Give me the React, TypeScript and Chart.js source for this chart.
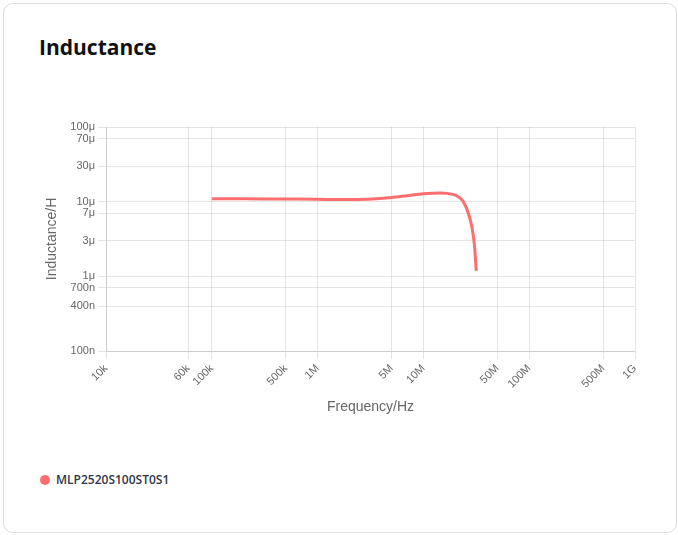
import React, { useEffect, useRef } from "react";
import { Chart, registerables } from "chart.js";

Chart.register(...registerables);

const seriesName = "MLP2520S100ST0S1";
const frequencies = [
  1e5, 2e5, 5e5, 1e6, 1.8e6, 3e6, 5e6, 7e6, 1e7, 1.45e7, 1.9e7, 2.2e7, 2.4e7, 2.67e7, 2.88e7, 3.03e7, 3.16e7,
];
const inductances = [
  10.95e-6, 10.9e-6, 10.85e-6, 10.8e-6, 10.65e-6, 10.8e-6, 11.35e-6, 12.0e-6, 12.75e-6, 13.1e-6, 12.5e-6, 11.3e-6,
  9.8e-6, 6.9e-6, 4.5e-6, 2.7e-6, 1.18e-6,
];
const xTicks = [1e4, 6e4, 1e5, 5e5, 1e6, 5e6, 1e7, 5e7, 1e8, 5e8, 1e9];
const yTicks = [1e-7, 4e-7, 7e-7, 1e-6, 3e-6, 7e-6, 1e-5, 3e-5, 7e-5, 1e-4];

const lineColor = "#ff6e6e";

function si(v: number): string {
  const prefixes: [number, string][] = [
    [1e9, "G"],
    [1e6, "M"],
    [1e3, "k"],
    [1, ""],
    [1e-3, "m"],
    [1e-6, "μ"],
    [1e-9, "n"],
  ];
  for (const [f, p] of prefixes) {
    if (v >= f * 0.999) {
      const n = Math.round((v / f) * 1000) / 1000;
      return `${n}${p}`;
    }
  }
  return String(v);
}

export default function App() {
  const ref = useRef<HTMLCanvasElement | null>(null);
  useEffect(() => {
    if (!ref.current) return;
    const chart = new Chart(ref.current, {
      type: "line",
      data: {
        datasets: [
          {
            label: seriesName,
            data: frequencies.map((f, i) => ({ x: f, y: inductances[i] })),
            borderColor: lineColor,
            backgroundColor: lineColor,
            borderWidth: 3,
            pointRadius: 0,
            tension: 0.4,
            cubicInterpolationMode: "monotone",
            fill: false,
          },
        ],
      },
      options: {
        animation: false,
        responsive: false,
        maintainAspectRatio: false,
        layout: { padding: { left: 0, right: 15, top: 27, bottom: 0 } },
        plugins: { legend: { display: false }, tooltip: { enabled: false } },
        scales: {
          x: {
            type: "logarithmic",
            min: 1e4,
            max: 1e9,
            title: { display: true, text: "Frequency/Hz", color: "#666", font: { size: 14 } },
            ticks: {
              autoSkip: false,
              minRotation: 45,
              maxRotation: 45,
              color: "#666",
              font: { size: 11 },
              callback: (v: any) => si(Number(v)),
            },
            afterBuildTicks: (scale: any) => {
              scale.ticks = xTicks.map((v) => ({ value: v }));
            },
            afterFit: (scale: any) => {
              scale.height = 69;
            },
          },
          y: {
            type: "logarithmic",
            min: 1e-7,
            max: 1e-4,
            title: { display: true, text: "Inductance/H", color: "#666", font: { size: 14 } },
            ticks: {
              autoSkip: false,
              color: "#666",
              font: { size: 11 },
              callback: (v: any) => si(Number(v)),
            },
            afterBuildTicks: (scale: any) => {
              scale.ticks = yTicks.map((v) => ({ value: v }));
            },
            afterFit: (scale: any) => {
              scale.width = 66;
            },
          },
        },
      },
    });
    return () => chart.destroy();
  }, []);

  return (
    <div style={{ position: "fixed", left: 0, top: 0, width: 678, height: 535, background: "#fff" }}>
      <div
        style={{
          position: "absolute",
          left: 3,
          top: 3,
          width: 674,
          height: 530,
          border: "1px solid #dedede",
          borderRadius: 10,
          boxSizing: "border-box",
        }}
      />
      <div
        style={{
          position: "absolute",
          left: 39,
          top: 33,
          fontFamily: "'Open Sans', sans-serif",
          fontWeight: 700,
          fontSize: 21,
          color: "#111",
          lineHeight: "normal",
          whiteSpace: "nowrap",
        }}
      >
        Inductance
      </div>
      <canvas
        ref={ref}
        width={610}
        height={320}
        style={{ position: "absolute", left: 40, top: 100, width: 610, height: 320 }}
      />
      <div
        style={{
          position: "absolute",
          left: 40,
          top: 471,
          display: "flex",
          alignItems: "center",
          fontFamily: "'Open Sans', sans-serif",
          fontWeight: 600,
          fontSize: 12,
          color: "#30354a",
          whiteSpace: "nowrap",
        }}
      >
        <span
          style={{
            display: "inline-block",
            width: 10,
            height: 10,
            borderRadius: "50%",
            background: lineColor,
            marginRight: 6,
          }}
        />
        {seriesName}
      </div>
    </div>
  );
}
